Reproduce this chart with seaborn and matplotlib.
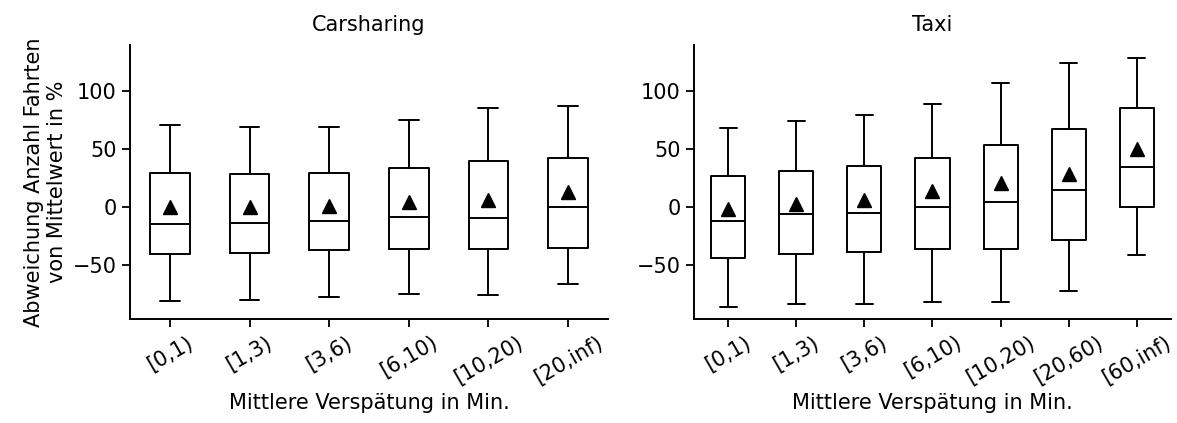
import numpy as np
import seaborn as sns
import matplotlib
matplotlib.use("Agg")
import matplotlib.pyplot as plt

# Box statistics (% deviation from mean)
car_labels = ["[0,1)", "[1,3)", "[3,6)", "[6,10)", "[10,20)", "[20,inf)"]
car_whislo = [-81.6, -80.4, -77.8, -75.5, -76.1, -66.9]
car_q1 = [-40.3, -39.8, -37.5, -36.6, -36.6, -35.2]
car_med = [-14.4, -13.5, -12.4, -8.6, -9.8, 0.0]
car_q3 = [29.1, 28.5, 29.1, 33.4, 39.8, 42.1]
car_whishi = [70.9, 69.2, 69.2, 75.2, 85.6, 87.3]
car_mean = [0.0, 0.0, 1.0, 4.3, 6.0, 13.3]

taxi_labels = ["[0,1)", "[1,3)", "[3,6)", "[6,10)", "[10,20)", "[20,60)", "[60,inf)"]
taxi_whislo = [-86.2, -83.9, -83.9, -81.8, -81.8, -72.6, -41.8]
taxi_q1 = [-44.1, -40.9, -38.9, -36.3, -36.0, -28.2, 0.0]
taxi_med = [-12.4, -6.3, -4.9, 0.0, 4.6, 15.0, 34.3]
taxi_q3 = [26.5, 30.8, 35.4, 42.4, 53.6, 67.4, 85.6]
taxi_whishi = [68.3, 74.6, 79.8, 88.8, 106.9, 124.8, 128.8]
taxi_mean = [-2.0, 2.9, 6.3, 13.5, 20.7, 28.8, 50.1]

sns.set_style("ticks")
plt.rcParams["font.family"] = ["DejaVu Sans"]
plt.rcParams["font.size"] = 15
for key in ["text.color", "axes.labelcolor", "xtick.color", "ytick.color", "axes.edgecolor"]:
    plt.rcParams[key] = "black"


def make_stats(labels, lo, q1, med, q3, hi, mean):
    stats = []
    for i in range(len(labels)):
        stats.append({"label": labels[i], "whislo": lo[i], "q1": q1[i], "med": med[i],
                      "q3": q3[i], "whishi": hi[i], "mean": mean[i], "fliers": []})
    return stats


fig = plt.figure(figsize=(11.77, 4.23), dpi=100)
ax1 = fig.add_axes([0.1105, 0.2452, 0.406, 0.6484])
ax2 = fig.add_axes([0.5896, 0.2452, 0.4053, 0.6484])

lw = 1.4
boxprops = dict(color="black", linewidth=lw)
lineprops = dict(color="black", linewidth=lw)
meanprops = dict(marker="^", markerfacecolor="black", markeredgecolor="black", markersize=10)

panels = [
    (ax1, "Carsharing", make_stats(car_labels, car_whislo, car_q1, car_med, car_q3, car_whishi, car_mean)),
    (ax2, "Taxi", make_stats(taxi_labels, taxi_whislo, taxi_q1, taxi_med, taxi_q3, taxi_whishi, taxi_mean)),
]

for ax, title, stats in panels:
    ax.bxp(stats, positions=np.arange(len(stats)), widths=0.5, showmeans=True, showfliers=False,
           boxprops=boxprops, whiskerprops=lineprops, capprops=lineprops,
           medianprops=lineprops, meanprops=meanprops)
    ax.set_xlim(-0.5, len(stats) - 0.5)
    ax.set_ylim(-97, 140)
    ax.set_yticks([-50, 0, 50, 100])
    ax.set_title(title, fontsize=15, pad=10)
    ax.set_xlabel("Mittlere Verspätung in Min.", fontsize=15)
    ax.tick_params(axis="x", labelrotation=30, length=6, width=1.3, labelsize=15)
    ax.tick_params(axis="y", length=6, width=1.3, labelsize=15)
    for sp in ax.spines.values():
        sp.set_linewidth(1.4)
    sns.despine(ax=ax)

ax1.set_ylabel("Abweichung Anzahl Fahrten\nvon Mittelwert in %", fontsize=15)

fig.savefig("out.png", dpi=100)
